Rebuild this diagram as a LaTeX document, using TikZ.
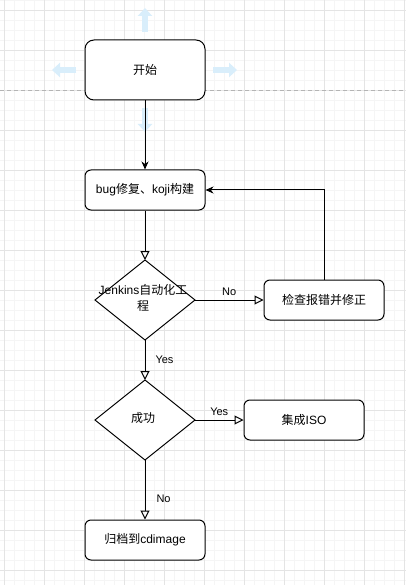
\documentclass[tikz,border=0pt]{standalone}
\usepackage{fontspec}
\setmainfont{Liberation Sans}
\newfontfamily\cjk{Noto Sans CJK SC}
\usetikzlibrary{arrows.meta,shapes.geometric}
\definecolor{minorgrid}{HTML}{F5F5F5}
\definecolor{majorgrid}{HTML}{E4E4E4}
\definecolor{pagebreak}{HTML}{B4B4B4}
\definecolor{hoverblue}{HTML}{D9EEFB}
\begin{document}
\begin{tikzpicture}[x=1pt,y=-1pt,
  font=\fontsize{12}{15}\selectfont,
  box/.style={draw, line width=1pt, rounded corners=6pt, minimum width=120pt,
    minimum height=40pt, inner sep=0pt, align=center, fill=white},
  bigbox/.style={box, minimum height=60pt, rounded corners=9pt},
  decision/.style={draw, line width=1pt, fill=white, inner sep=0pt},
  lbl/.style={font=\fontsize{11}{13}\selectfont, inner sep=0pt},
  flow/.style={line width=1pt, -{Triangle[open, length=9pt, width=9pt]}},
  solidflow/.style={line width=1pt, -{Stealth[length=8pt, width=7pt, inset=2.5pt]}},
  hover/.style={line width=6pt, draw=hoverblue, -{Triangle[length=8pt, width=14pt]}},
  minorline/.style={draw=minorgrid, line width=0.6pt},
  majorline/.style={draw=majorgrid, line width=0.8pt}
]
\useasboundingbox (0,0) rectangle (406,585);
\fill[white] (0,0) rectangle (406,585);
% grid
\foreach \x in {4,14,...,404} \draw[minorline] (\x,0) -- (\x,585);
\foreach \y in {0,10,...,580} \draw[minorline] (0,\y) -- (406,\y);
\foreach \x in {4,44,...,404} \draw[majorline] (\x,0) -- (\x,585);
\foreach \y in {10,50,...,570} \draw[majorline] (0,\y) -- (406,\y);
\draw[pagebreak, line width=0.8pt, dash pattern=on 4pt off 3pt] (0,90) -- (406,90);

% hover arrows
\draw[hover] (145,32) -- (145,8);
\draw[hover] (145,108) -- (145,132);
\draw[hover] (76,70) -- (52,70);
\draw[hover] (213,70) -- (237,70);

% nodes
\node[bigbox] (start) at (145,70) {{\cjk 开始}};
\node[box] (bug) at (145,190) {bug{\cjk 修复、}koji{\cjk 构建}};
\node[box] (check) at (324,300) {{\cjk 检查报错并修正}};
\node[box] (iso) at (304,420) {{\cjk 集成}ISO};
\node[box] (arch) at (145,540) {{\cjk 归档到}cdimage};

\coordinate (d1n) at (145,260);
\coordinate (d1e) at (195,300);
\coordinate (d1s) at (145,340);
\coordinate (d1w) at (95,300);
\draw[decision] (d1n) -- (d1e) -- (d1s) -- (d1w) -- cycle;
\node[inner sep=0pt, align=center, font=\fontsize{12}{16}\selectfont] (d1) at (143,298) {Jenkins{\cjk 自动化工}\\{\cjk 程}};

\coordinate (d2n) at (145,380);
\coordinate (d2e) at (195,420);
\coordinate (d2s) at (145,460);
\coordinate (d2w) at (95,420);
\draw[decision] (d2n) -- (d2e) -- (d2s) -- (d2w) -- cycle;
\node[inner sep=0pt] (d2) at (143,418) {{\cjk 成功}};

% connectors
\draw[solidflow] (start.south) -- (bug.north);
\draw[flow] (bug.south) -- (d1n);
\draw[flow] (d1e) -- (check.west) node[lbl, pos=0.5, above=4pt] (no1) {No};
\coordinate (corner) at (check.north |- bug.east);
\draw[solidflow] (check.north) -- (corner) -- (bug.east);
\draw[flow] (d1s) -- (d2n) node[lbl, pos=0.5, right=10pt] (yes1) {Yes};
\draw[flow] (d2e) -- (iso.west) node[lbl, midway, above=4pt] (yes2) {Yes};
\draw[flow] (d2s) -- (arch.north) node[lbl, pos=0.65, right=11pt] (no2) {No};
\end{tikzpicture}
\end{document}
